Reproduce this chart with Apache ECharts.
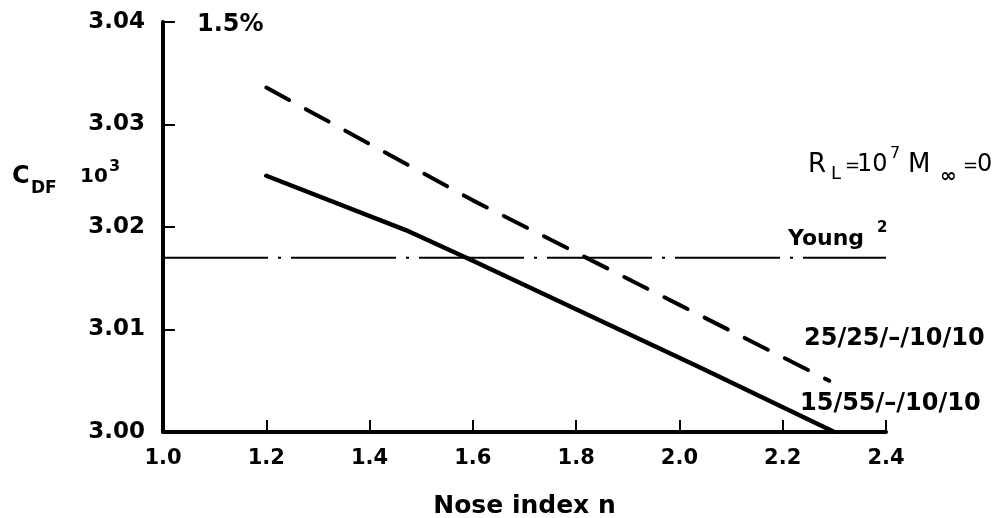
<!DOCTYPE html>
<html>
<head>
<meta charset="utf-8">
<script src="https://cdn.jsdelivr.net/npm/echarts@6/dist/echarts.min.js"></script>
<style>
html,body{margin:0;padding:0;background:#fff;}
#chart{width:999px;height:518px;}
</style>
</head>
<body>
<div id="chart"></div>
<script>
// Data
var xTicks = [1.0, 1.2, 1.4, 1.6, 1.8, 2.0, 2.2, 2.4];
var yTicks = [3.00, 3.01, 3.02, 3.03, 3.04];
// 15/55/-/10/10 (solid)
var solidX = [1.2, 1.47, 1.6, 2.04, 2.3];
var solidY = [3.025, 3.0197, 3.0167, 3.0063, 3.000];
// 25/25/-/10/10 (dashed)
var dashX = [1.2, 1.6, 2.0, 2.29];
var dashY = [3.0336, 3.0226, 3.0124, 3.005];
// Young reference value
var youngX = [1.0, 2.4];
var youngY = [3.017, 3.017];

function pairs(xs, ys){ return xs.map(function(x,i){ return [x, ys[i]]; }); }

var FONT = "'DejaVu Sans', sans-serif";
var chart = echarts.init(document.getElementById('chart'), null, {renderer:'canvas'});

function txt(text, left, midY, size, weight){
  return {type:'text', left:left, top:Math.round(midY - size*0.45), silent:true,
    style:{text:text, font:(weight||'bold')+' '+size+'px '+FONT, fill:'#000'}};
}

var option = {
  animation:false,
  backgroundColor:'#fff',
  grid:{left:163, right:113, top:22, bottom:86, containLabel:false, outerBoundsMode:'none'},
  xAxis:{
    type:'value', min:xTicks[0], max:xTicks[xTicks.length-1], interval:0.2,
    axisLine:{show:true, onZero:false, lineStyle:{color:'#000', width:4}},
    axisTick:{show:true, inside:true, length:12, lineStyle:{color:'#000', width:2}},
    splitLine:{show:false},
    axisLabel:{color:'#000', fontFamily:FONT, fontWeight:'bold', fontSize:21, margin:16,
      formatter:function(v){ return v.toFixed(1); }},
    name:'Nose index n', nameLocation:'middle', nameGap:62,
    nameTextStyle:{color:'#000', fontFamily:FONT, fontWeight:'bold', fontSize:25}
  },
  yAxis:{
    type:'value', min:yTicks[0], max:yTicks[yTicks.length-1], interval:0.01,
    axisLine:{show:true, onZero:false, lineStyle:{color:'#000', width:4}},
    axisTick:{show:true, inside:true, length:12, lineStyle:{color:'#000', width:2}},
    splitLine:{show:false},
    axisLabel:{color:'#000', fontFamily:FONT, fontWeight:'bold', fontSize:23, margin:18,
      formatter:function(v){ return v.toFixed(2); }}
  },
  series:[
    {type:'line', data:pairs(youngX, youngY), symbol:'none', silent:true,
      lineStyle:{color:'#000', width:2, type:[105,10,3,10]}},
    {type:'line', data:pairs(dashX, dashY), symbol:'none', silent:true,
      lineStyle:{color:'#000', width:4, type:[26,19], cap:'round'}},
    {type:'line', data:pairs(solidX, solidY), symbol:'none', silent:true,
      lineStyle:{color:'#000', width:4.5, cap:'round', join:'round'}}
  ],
  graphic:[
    txt('1.5%', 197, 24, 24),
    // C_DF 10^3
    txt('C', 12, 176, 24),
    txt('DF', 31, 188, 17),
    txt('10', 80, 176, 20),
    txt('3', 109, 166, 16),
    // R_L = 10^7 M_inf = 0
    txt('R', 808, 164, 26, 'normal'),
    txt('L', 831, 173, 18, 'normal'),
    txt('=', 845, 165, 18, 'normal'),
    txt('10', 857, 164, 24, 'normal'),
    txt('7', 890, 153, 16, 'normal'),
    txt('M', 908, 164, 26, 'normal'),
    txt('\u221E', 940, 176, 20, 'bold'),
    txt('=', 963, 165, 18, 'normal'),
    txt('0', 977, 164, 24, 'normal'),
    // Young^2
    txt('Young', 788, 238, 22),
    txt('2', 877, 228, 15),
    // Configuration labels
    txt('25/25/\u2013/10/10', 804, 338, 24),
    txt('15/55/\u2013/10/10', 800, 403, 24)
  ]
};
chart.setOption(option);
</script>
</body>
</html>
